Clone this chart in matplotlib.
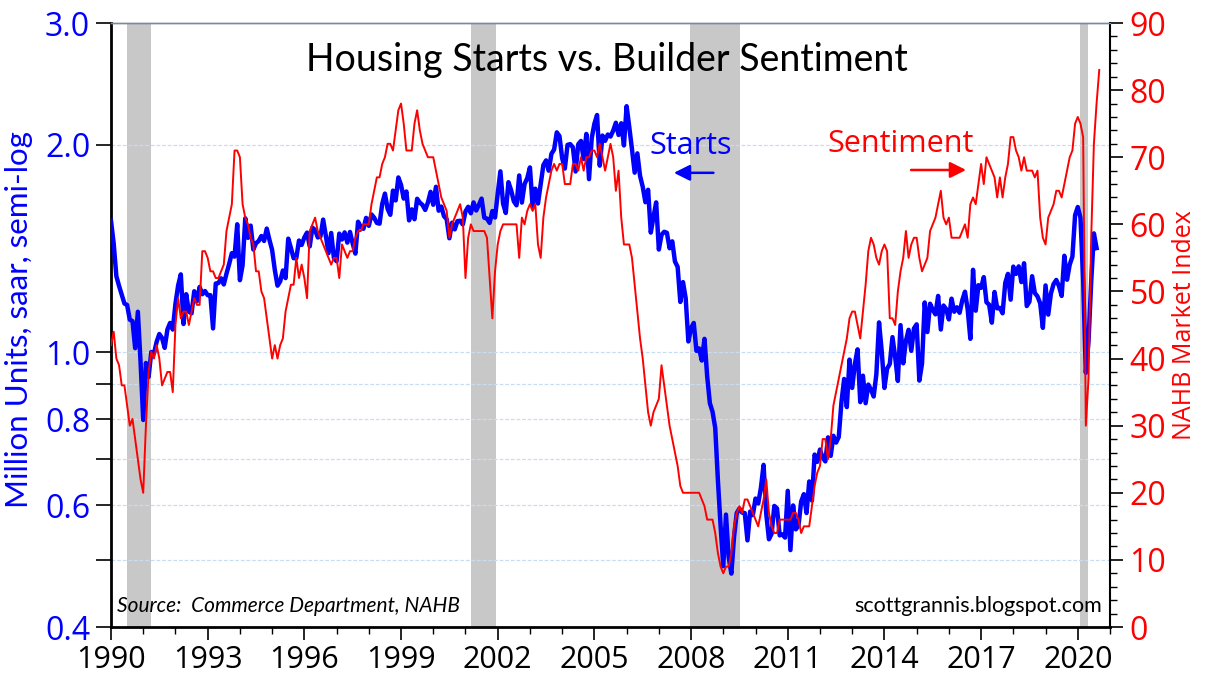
import numpy as np
import matplotlib
matplotlib.use("Agg")
import matplotlib.pyplot as plt
from matplotlib.ticker import FixedLocator, NullFormatter, MultipleLocator

plt.rcParams['font.family'] = ['Open Sans', 'DejaVu Sans']

# housing starts, thousands saar, monthly from Jan 1990
starts = [
    1551, 1437, 1289, 1248, 1212, 1177, 1171, 1115, 1110, 1014, 1145, 969,
    798, 965, 921, 1001, 996, 1036, 1063, 1049, 1015, 1079, 1103, 1079,
    1176, 1250, 1297, 1099, 1214, 1145, 1139, 1226, 1186, 1244, 1214, 1227,
    1210, 1210, 1083, 1258, 1260, 1280, 1254, 1300, 1343, 1392, 1376, 1533,
    1272, 1337, 1564, 1465, 1526, 1409, 1439, 1450, 1474, 1450, 1511, 1455,
    1407, 1316, 1249, 1267, 1314, 1281, 1461, 1416, 1369, 1369, 1452, 1431,
    1467, 1491, 1424, 1516, 1504, 1467, 1472, 1557, 1475, 1392, 1489, 1370,
    1355, 1486, 1457, 1492, 1442, 1494, 1437, 1390, 1546, 1520, 1510, 1566,
    1525, 1584, 1567, 1540, 1536, 1641, 1698, 1614, 1582, 1715, 1660, 1792,
    1748, 1670, 1710, 1553, 1611, 1559, 1669, 1648, 1635, 1608, 1648, 1708,
    1636, 1737, 1604, 1626, 1575, 1559, 1463, 1541, 1507, 1549, 1551, 1532,
    1600, 1625, 1590, 1649, 1605, 1636, 1670, 1567, 1562, 1540, 1602, 1568,
    1698, 1829, 1642, 1592, 1764, 1717, 1655, 1633, 1804, 1648, 1753, 1788,
    1853, 1629, 1726, 1643, 1751, 1867, 1897, 1833, 1939, 1967, 2083, 2057,
    1911, 1846, 1998, 2003, 1981, 1828, 2002, 2024, 1905, 2072, 1782, 2042,
    2144, 2207, 1864, 2061, 2025, 2068, 2054, 2095, 2151, 2065, 2147, 1994,
    2273, 2119, 1969, 1821, 1942, 1802, 1737, 1650, 1720, 1491, 1570, 1649,
    1409, 1480, 1495, 1490, 1415, 1448, 1354, 1330, 1183, 1264, 1197, 1037,
    1084, 1103, 1005, 1013, 973, 1046, 923, 844, 820, 777, 652, 560,
    490, 582, 505, 478, 540, 585, 594, 586, 585, 534, 588, 581,
    614, 604, 636, 687, 583, 536, 546, 599, 594, 543, 545, 539,
    630, 517, 600, 554, 561, 608, 623, 585, 650, 610, 711, 694,
    723, 704, 695, 753, 708, 757, 740, 754, 847, 915, 833, 976,
    888, 962, 1010, 847, 925, 844, 898, 883, 863, 930, 1105, 1003,
    888, 947, 962, 1052, 985, 909, 1095, 964, 1039, 1078, 1005, 1083,
    1098, 910, 963, 1181, 1070, 1176, 1152, 1135, 1207, 1079, 1169, 1155,
    1116, 1196, 1145, 1162, 1141, 1190, 1224, 1154, 1046, 1317, 1149, 1251,
    1240, 1285, 1182, 1172, 1104, 1223, 1158, 1160, 1139, 1261, 1299, 1192,
    1331, 1299, 1332, 1264, 1346, 1167, 1184, 1289, 1219, 1205, 1178, 1085,
    1250, 1134, 1217, 1256, 1273, 1247, 1207, 1380, 1274, 1340, 1376, 1580,
    1624, 1567, 1276, 934, 1038, 1265, 1487, 1416,
]

# NAHB housing market index, monthly from Jan 1990
nahb = [
    42, 44, 40, 39, 36, 36, 33, 30, 31, 28, 25, 22,
    20, 30, 38, 41, 40, 42, 40, 36, 37, 38, 38, 35,
    45, 49, 46, 47, 47, 45, 47, 49, 48, 48, 56, 56,
    55, 53, 53, 52, 52, 53, 54, 59, 61, 63, 71, 71,
    70, 63, 61, 60, 58, 57, 53, 53, 50, 49, 46, 43,
    40, 42, 40, 42, 43, 47, 49, 51, 51, 55, 52, 54,
    52, 49, 59, 60, 61, 59, 58, 57, 56, 55, 54, 55,
    55, 52, 57, 56, 55, 56, 56, 58, 59, 59, 60, 60,
    60, 63, 65, 67, 67, 69, 70, 72, 72, 71, 74, 77,
    78, 75, 71, 71, 71, 75, 77, 74, 72, 71, 70, 70,
    70, 68, 66, 64, 63, 62, 58, 60, 61, 62, 63, 61,
    52, 58, 60, 59, 59, 59, 59, 59, 58, 52, 46, 53,
    57, 59, 60, 60, 60, 60, 60, 60, 55, 61, 60, 62,
    63, 62, 63, 57, 55, 61, 64, 66, 68, 69, 68, 69,
    69, 66, 66, 66, 69, 69, 68, 70, 68, 70, 70, 71,
    71, 70, 72, 70, 68, 70, 72, 70, 65, 68, 61, 57,
    57, 57, 55, 51, 47, 43, 40, 36, 32, 30, 32, 33,
    34, 39, 36, 33, 30, 28, 26, 24, 21, 20, 20, 20,
    20, 20, 20, 20, 19, 18, 16, 16, 16, 14, 11, 9,
    8, 9, 9, 11, 15, 17, 18, 17, 19, 19, 18, 17,
    16, 15, 17, 19, 22, 17, 15, 14, 14, 16, 16, 16,
    16, 16, 17, 17, 16, 14, 15, 15, 15, 18, 21, 23,
    24, 28, 28, 25, 28, 33, 35, 37, 39, 41, 43, 46,
    47, 47, 45, 43, 47, 51, 56, 58, 57, 55, 54, 56,
    57, 56, 46, 46, 45, 50, 53, 55, 59, 55, 57, 58,
    58, 55, 53, 54, 55, 59, 60, 61, 63, 65, 61, 60,
    61, 58, 58, 58, 58, 59, 60, 58, 63, 64, 63, 66,
    69, 66, 70, 69, 68, 67, 64, 67, 64, 67, 69, 73,
    73, 71, 70, 68, 70, 68, 68, 68, 67, 68, 61, 58,
    57, 61, 62, 63, 65, 65, 64, 66, 68, 70, 71, 75,
    76, 75, 73, 30, 37, 58, 72, 78, 83,
]

recessions = [(1990.5, 1991.25), (2001.17, 2001.95), (2007.97, 2009.52), (2020.08, 2020.31)]

year_ticks = list(range(1990, 2021, 3))
left_ticks = [0.4, 0.6, 0.8, 1.0, 2.0, 3.0]
left_minor = [0.5, 0.7, 0.9]

x_starts = 1990 + np.arange(len(starts)) / 12
x_nahb = 1990 + np.arange(len(nahb)) / 12

fig = plt.figure(figsize=(12.12, 6.88), dpi=100)
ax1 = fig.add_axes([111/1212, 1 - 627/688, 999/1212, 604/688])

for a, b in recessions:
    ax1.axvspan(a, b, color='#c8c8c8', lw=0, zorder=0)

ax1.plot(x_starts, np.array(starts) / 1000, color='#0000ff', lw=3.2, zorder=3)

ax1.set_yscale('log')
ax1.set_ylim(0.4, 3.0)
ax1.set_xlim(1990, 2021)
ax1.yaxis.set_major_locator(FixedLocator(left_ticks))
ax1.yaxis.set_minor_locator(FixedLocator(left_minor))
ax1.yaxis.set_minor_formatter(NullFormatter())
ax1.set_yticklabels(['%.1f' % v for v in left_ticks])
ax1.set_xticks(year_ticks)
ax1.xaxis.set_minor_locator(MultipleLocator(1))

for v in left_minor + [0.6, 0.8, 1.0, 2.0]:
    ax1.axhline(v, color='#c9ddf2', lw=0.9, ls=(0, (3, 1.5)), zorder=1)

ax1.tick_params(axis='y', which='major', direction='out', length=11, width=1.2,
                labelsize=23, labelcolor='#0000ff', pad=4)
ax1.tick_params(axis='y', which='minor', direction='out', length=11, width=1.2)
ax1.tick_params(axis='x', which='major', direction='out', length=9, width=1.2,
                labelsize=22, pad=4)
ax1.tick_params(axis='x', which='minor', direction='out', length=5, width=1.0)

# left axis title, placed by hand like the original
fig.text(19/1212, 1 - 320/688, 'Million Units, saar, semi-log', color='#0000ff',
         fontsize=22.5, rotation=90, ha='center', va='center',
         family=['Lato', 'DejaVu Sans'])

ax2 = ax1.twinx()
ax2.plot(x_nahb, nahb, color='#ff0000', lw=1.4, zorder=4)
ax2.set_ylim(0, 90)
ax2.yaxis.set_major_locator(MultipleLocator(10))
ax2.yaxis.set_minor_locator(MultipleLocator(2))
ax2.tick_params(axis='y', which='major', direction='out', length=9, width=1.2,
                labelsize=23, labelcolor='#ff0000', pad=5)
ax2.tick_params(axis='y', which='minor', direction='out', length=5, width=1.0)
ax2.set_ylabel('NAHB Market Index', color='#ff0000', fontsize=18, labelpad=4)

for ax in (ax1, ax2):
    ax.spines['top'].set_color('#7a8a99')
    ax.spines['top'].set_linewidth(1.0)
ax1.spines['left'].set_linewidth(2)
ax1.spines['bottom'].set_linewidth(2)
ax1.spines['right'].set_visible(False)
ax2.spines['left'].set_visible(False)
ax2.spines['bottom'].set_visible(False)
ax2.spines['right'].set_linewidth(1.5)

fig.text(607/1212, 1 - 60/688, 'Housing Starts vs. Builder Sentiment',
         ha='center', va='center', fontsize=27, family=['Lato', 'DejaVu Sans'])

ax1.text(2007.99, 1.99, 'Starts', color='#0000ff', fontsize=22, ha='center', va='center')
ax1.annotate('', xy=(2007.38, 1.82), xytext=(2008.78, 1.82),
             arrowprops=dict(arrowstyle='-|>', color='#0000ff', lw=1.8, mutation_scale=24))
ax2.text(2014.49, 72.0, 'Sentiment', color='#ff0000', fontsize=22, ha='center', va='center')
ax2.annotate('', xy=(2016.62, 68.1), xytext=(2014.74, 68.1),
             arrowprops=dict(arrowstyle='-|>', color='#ff0000', lw=1.8, mutation_scale=24))

ax1.text(0.006, 0.035, 'Source:  Commerce Department, NAHB', transform=ax1.transAxes,
         fontsize=15, style='italic', ha='left', va='center', zorder=5,
         family=['Lato', 'DejaVu Sans'])
ax1.text(0.992, 0.035, 'scottgrannis.blogspot.com', transform=ax1.transAxes,
         fontsize=15.5, ha='right', va='center', zorder=5,
         family=['Lato', 'DejaVu Sans'])

fig.savefig('out.png', dpi=100)
